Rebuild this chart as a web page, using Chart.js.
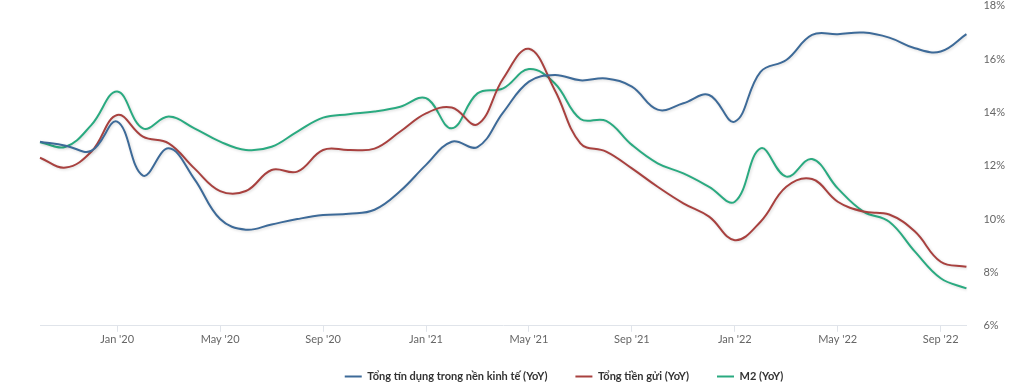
<!DOCTYPE html>
<html>
<head>
<meta charset="utf-8">
<script src="https://cdn.jsdelivr.net/npm/chart.js@4"></script>
<style>
html,body{margin:0;padding:0;background:#fff;overflow:hidden;}
#frame{width:1022px;height:392px;position:relative;overflow:hidden;}
#wrap{width:1022px;height:414px;position:absolute;left:0;top:-18px;}
</style>
</head>
<body>
<div id="frame"><div id="wrap"><canvas id="c"></canvas></div></div>
<script>
const months = ["Oct '19","Nov '19","Dec '19","Jan '20","Feb '20","Mar '20","Apr '20","May '20","Jun '20","Jul '20","Aug '20","Sep '20","Oct '20","Nov '20","Dec '20","Jan '21","Feb '21","Mar '21","Apr '21","May '21","Jun '21","Jul '21","Aug '21","Sep '21","Oct '21","Nov '21","Dec '21","Jan '22","Feb '22","Mar '22","Apr '22","May '22","Jun '22","Jul '22","Aug '22","Sep '22","Oct '22"];
const tickLabels = ["Jan '20","May '20","Sep '20","Jan '21","May '21","Sep '21","Jan '22","May '22","Sep '22"];
const credit = [12.9,12.75,12.56,13.65,11.63,12.65,11.5,10.0,9.6,9.8,10.0,10.15,10.2,10.35,11.05,12.03,12.9,12.7,14.0,15.15,15.4,15.2,15.27,14.96,14.1,14.34,14.65,13.65,15.52,15.96,16.9,16.93,16.99,16.8,16.4,16.28,16.93];
const deposits = [12.3,11.93,12.53,13.9,13.09,12.84,11.9,11.05,11.05,11.84,11.78,12.59,12.59,12.64,13.28,13.96,14.18,13.55,15.27,16.38,14.84,12.84,12.53,11.9,11.21,10.59,10.09,9.21,9.9,11.21,11.5,10.65,10.28,10.17,9.53,8.4,8.21];
const m2 = [12.88,12.71,13.53,14.78,13.4,13.84,13.4,12.9,12.59,12.71,13.28,13.8,13.93,14.03,14.21,14.53,13.4,14.71,14.9,15.62,15.09,13.75,13.68,12.78,12.09,11.71,11.21,10.65,12.65,11.59,12.25,11.15,10.28,9.9,8.78,7.78,7.4];
const yTicks = [6,8,10,12,14,16,18];
const seriesNames = ["Tổng tín dụng trong nền kinh tế (YoY)","Tổng tiền gửi (YoY)","M2 (YoY)"];
const colors = ["#3d6a98","#a8413f","#2aaa80"];

const glow = {
  id:'glow',
  beforeDatasetDraw(chart){
    const ctx = chart.ctx;
    ctx.save();
    ctx.shadowColor = 'rgba(0,0,0,0.16)';
    ctx.shadowBlur = 3;
    ctx.shadowOffsetX = 1;
    ctx.shadowOffsetY = 1;
  },
  afterDatasetDraw(chart){ chart.ctx.restore(); }
};

const legendShift = {
  id:'legendShift',
  afterLayout(chart){
    const l = chart.legend;
    if (l) { l.left += 33; l.right += 33; l.top -= 4; l.bottom -= 4; }
  }
};

const mk = (i, data) => ({
  label: seriesNames[i], data, borderColor: colors[i], backgroundColor: colors[i],
  borderWidth: 2, pointRadius: 0, tension: 0.4, fill: false
});

new Chart(document.getElementById('c'), {
  type: 'line',
  data: { labels: months, datasets: [mk(0, credit), mk(1, deposits), mk(2, m2)] },
  plugins: [glow, legendShift],
  options: {
    responsive: true, maintainAspectRatio: false, animation: false,
    layout: { padding: { left: 40, top: 0, right: 0, bottom: 0 } },
    plugins: {
      tooltip: { enabled: false },
      legend: {
        position: 'bottom',
        labels: {
          boxWidth: 17, boxHeight: 2, padding: 28, color: '#333',
          font: { family: 'Lato', size: 11, weight: 'bold' },
          generateLabels(chart){
            return chart.data.datasets.map((d,i)=>({text:d.label, fillStyle:d.borderColor, strokeStyle:d.borderColor, lineWidth:0, hidden:false, datasetIndex:i, fontColor:'#333'}));
          }
        }
      }
    },
    scales: {
      x: {
        type: 'category', offset: false,
        border: { display: true, color: '#e0e4ea' },
        grid: {
          drawOnChartArea: false, drawTicks: true, tickLength: 6,
          color: (c) => tickLabels.includes(months[c.index]) ? '#e0e4ea' : 'rgba(0,0,0,0)'
        },
        ticks: {
          autoSkip: false, maxRotation: 0, color: '#666', padding: 1,
          font: { family: 'Lato', size: 11 },
          callback: (v, i) => tickLabels.includes(months[i]) ? months[i] : ''
        }
      },
      y: {
        position: 'right', min: 6, max: 18,
        afterBuildTicks: (s) => { s.ticks = yTicks.map(v => ({ value: v })); },
        border: { display: false },
        grid: { display: false, drawTicks: false },
        ticks: { color: '#666', padding: 17, font: { family: 'Lato', size: 11 }, callback: v => v + '%' }
      }
    }
  }
});
</script>
</body>
</html>
